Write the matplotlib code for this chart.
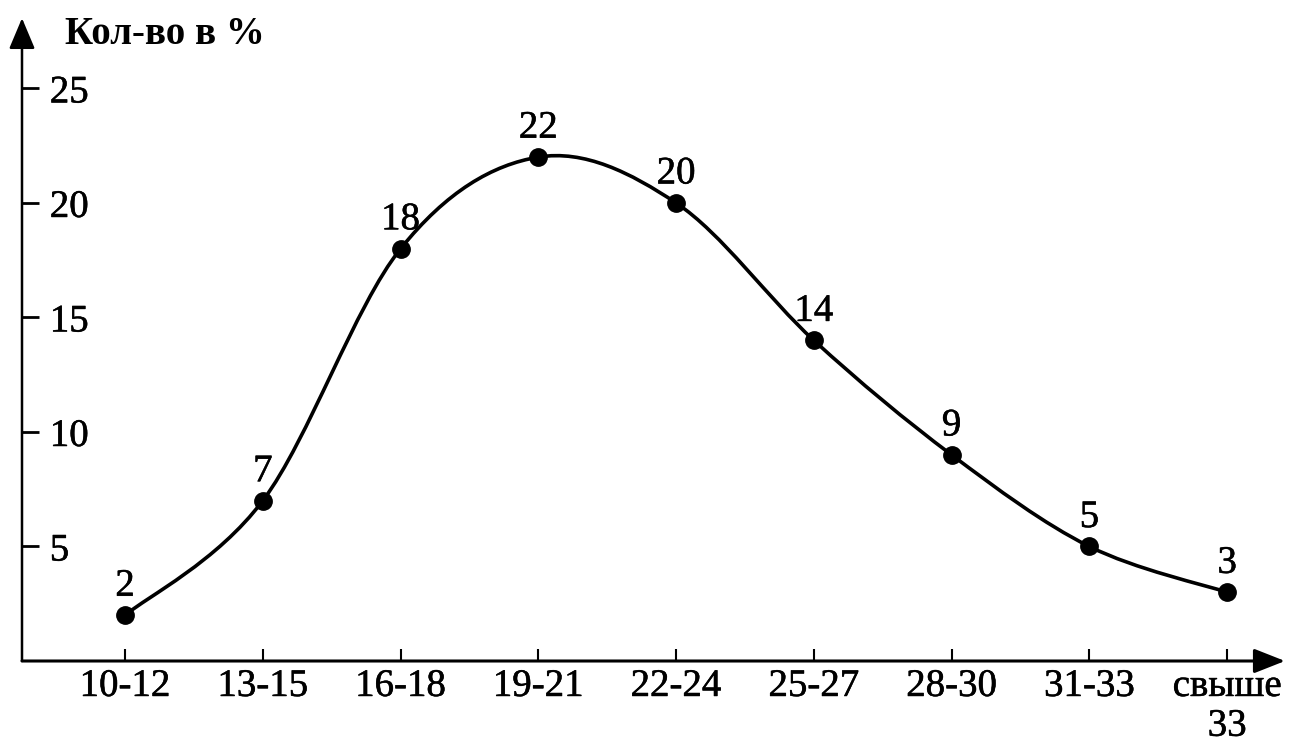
import numpy as np
import matplotlib
matplotlib.use("Agg")
import matplotlib.pyplot as plt
import matplotlib.patheffects as pe
from matplotlib.path import Path
from matplotlib.patches import PathPatch

categories = ["10-12", "13-15", "16-18", "19-21", "22-24", "25-27", "28-30", "31-33", "свыше\n33"]
values = [2, 7, 18, 22, 20, 14, 9, 5, 3]
y_ticks = [5, 10, 15, 20, 25]
y_label = "Кол-во в %"

plt.rcParams['font.family'] = ['Liberation Serif', 'DejaVu Serif']
FS = 28
thick = [pe.withStroke(linewidth=0.4, foreground='black')]  # print-like heavier text


def smooth_path(xs, ys):  # catmull-rom curve through the points as bezier path
    pts = np.column_stack([xs, ys]).astype(float)
    ext = np.vstack([pts[0], pts, pts[-1]])
    verts = [pts[0]]
    codes = [Path.MOVETO]
    for i in range(len(pts) - 1):
        p0, p1, p2, p3 = ext[i], ext[i + 1], ext[i + 2], ext[i + 3]
        c1 = p1 + (p2 - p0) / 6
        c2 = p2 - (p3 - p1) / 6
        verts += [c1, c2, p2]
        codes += [Path.CURVE4] * 3
    return Path(verts, codes)


fig = plt.figure(figsize=(12.91, 7.46), dpi=100)
ax = fig.add_axes([22 / 1291, 85 / 746, 1263 / 1291, 639 / 746])
ax.set_xlim(-0.748, 8.42)
ax.set_ylim(0, 27.9)

x = np.arange(len(categories))
ax.add_patch(PathPatch(smooth_path(x, values), facecolor='none', edgecolor='black', lw=2.6, zorder=3))
ax.plot(x, values, 'o', color='black', markersize=12.5, zorder=4)
for xi, v in zip(x, values):  # value labels above points
    ax.annotate(str(v), (xi, v), xytext=(0, 14), textcoords='offset points',
                ha='center', va='baseline', fontsize=FS, path_effects=thick)

# axes with arrows
for s in ax.spines.values():
    s.set_visible(False)
ax.annotate('', xy=(1, 0), xytext=(0, 0), xycoords='axes fraction',
            arrowprops=dict(arrowstyle='-|>,head_length=19,head_width=7.5', mutation_scale=1,
                            lw=2.2, color='black', shrinkA=0, shrinkB=0))
ax.annotate('', xy=(0, 1.006), xytext=(0, 0), xycoords='axes fraction',
            arrowprops=dict(arrowstyle='-|>,head_length=19,head_width=8', mutation_scale=1,
                            lw=1.8, color='black', shrinkA=0, shrinkB=0))

ax.set_xticks(x)
ax.set_xticklabels(categories, fontsize=FS)
for lbl in ax.get_xticklabels():
    lbl.set_linespacing(1.1)
    lbl.set_path_effects(thick)
ax.tick_params(axis='x', direction='in', length=8.5, width=1.5, pad=5)

ax.set_yticks(y_ticks)
ax.set_yticklabels([str(t) for t in y_ticks], fontsize=FS)
for lbl in ax.get_yticklabels():
    lbl.set_horizontalalignment('left')
    lbl.set_path_effects(thick)
ax.tick_params(axis='y', direction='in', length=12, width=2, pad=-20)

fig.text(65 / 1291, 1 - 35 / 746, y_label, fontsize=FS, fontweight='bold', ha='left', va='center')

fig.savefig('out.png', dpi=100, facecolor='white')
plt.close()
